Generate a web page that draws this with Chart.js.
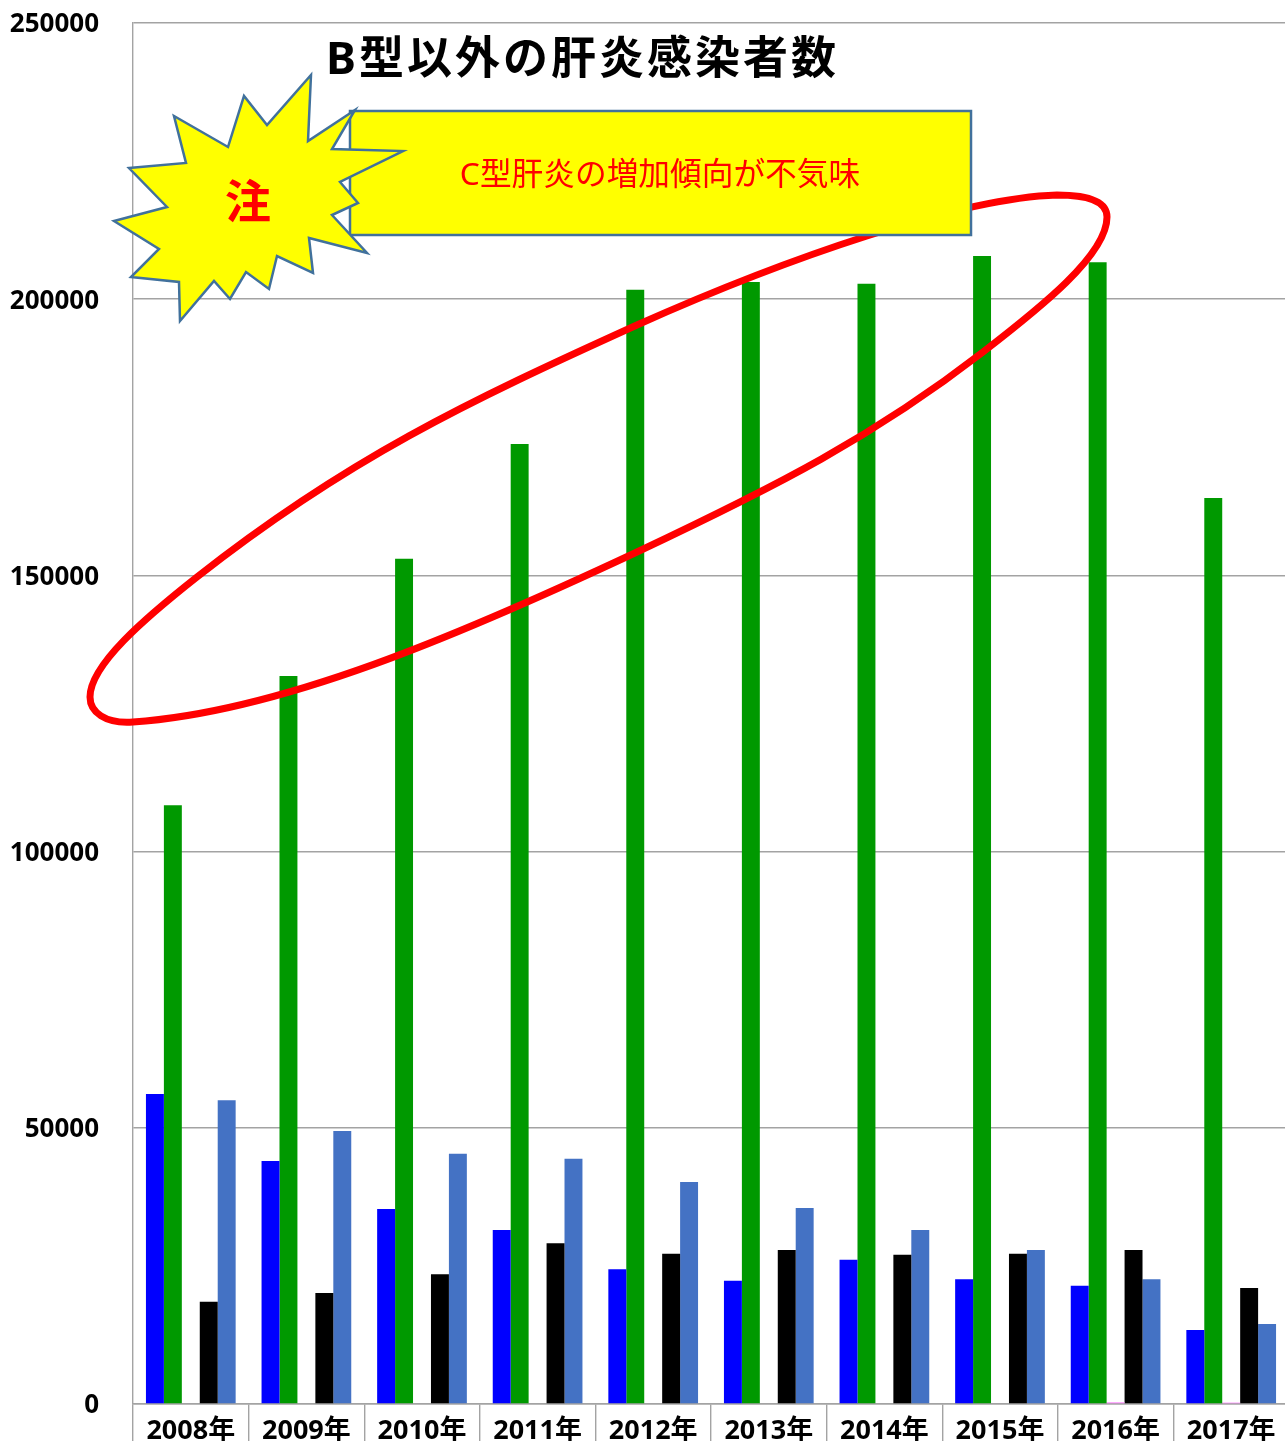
<!DOCTYPE html>
<html>
<head>
<meta charset="utf-8">
<style>
html, body { margin: 0; padding: 0; background: #fff; overflow: hidden; width: 1285px; height: 1441px; }
canvas { display: block; }
</style>
<script src="https://cdn.jsdelivr.net/npm/chart.js@4/dist/chart.umd.min.js"></script>
</head>
<body>
<canvas id="chart" width="1289" height="1441"></canvas>
<script>
const years = ["2008年", "2009年", "2010年", "2011年", "2012年", "2013年", "2014年", "2015年", "2016年", "2017年"];
const blueValues = [56100, 44000, 35300, 31500, 24400, 22300, 26100, 22600, 21400, 13400];
const greenValues = [108400, 131800, 153000, 173800, 201700, 203100, 202800, 207800, 206700, 164000];
const pinkValues = [0, 0, 0, 0, 0, 0, 0, 0, 300, 250];
const blackValues = [18500, 20100, 23500, 29100, 27200, 27900, 27000, 27200, 27900, 21000];
const steelValues = [55000, 49400, 45300, 44400, 40200, 35500, 31500, 27900, 22600, 14500];

const titleText = "B型以外の肝炎感染者数";
const boxText = "C型肝炎の増加傾向が不気味";
const starText = "注";

// hand drawn shapes on top of the chart, page pixels
const starOutline = [[129,168],[186,163],[174,116],[228,147],[244,96],[267,125],[311,75],[308,141],[355,110],[332,149],[403,151],[340,182],[358,203],[332,215],[367,253],[309,238],[313,273],[277,256],[269,289],[246,272],[230,299],[214,281],[180,321],[179,282],[131,277],[159,249],[114,221],[167,207]];
const ringStart = [90,697];
// each row: control 1, control 2, end
const ringCurves = [
    [90,665, 145,618, 197,577],
    [347,459, 467,402, 637,325],
    [787,258, 960,198, 1057,195],
    [1085,195, 1107,200, 1107,217],
    [1107,255, 1040,308, 983,352],
    [873,437, 777,486, 637,552],
    [460,635, 280,712, 133,722],
    [105,724, 90,712, 90,697]
];

const JP = '"Noto Sans", "Noto Sans CJK JP", sans-serif';
const GRID = "#a3a3a3";

const overlay = {
    id: "overlay",
    afterDraw(chart){
        const ctx = chart.ctx;
        ctx.save();

        // title
        ctx.fillStyle = "#000";
        ctx.textAlign = "left";
        ctx.textBaseline = "middle";
        ctx.font = 'bold 45px ' + JP;
        ctx.letterSpacing = "3px";
        ctx.fillText(titleText, 326, 61);
        ctx.letterSpacing = "0px";

        // red ring
        ctx.beginPath();
        ctx.moveTo(ringStart[0], ringStart[1]);
        ringCurves.forEach(c => ctx.bezierCurveTo(c[0], c[1], c[2], c[3], c[4], c[5]));
        ctx.closePath();
        ctx.strokeStyle = "#ff0000";
        ctx.lineWidth = 7;
        ctx.stroke();

        // yellow box
        ctx.fillStyle = "#ffff00";
        ctx.strokeStyle = "#41719c";
        ctx.lineWidth = 2.5;
        ctx.fillRect(350, 111, 621, 124);
        ctx.strokeRect(350, 111, 621, 124);
        ctx.fillStyle = "#ff0000";
        ctx.font = '31.7px ' + JP;
        ctx.textAlign = "center";
        ctx.fillText(boxText, 660, 176);

        // star
        ctx.beginPath();
        starOutline.forEach((p, i) => i ? ctx.lineTo(p[0], p[1]) : ctx.moveTo(p[0], p[1]));
        ctx.closePath();
        ctx.fillStyle = "#ffff00";
        ctx.fill();
        ctx.strokeStyle = "#41719c";
        ctx.lineWidth = 2.5;
        ctx.stroke();
        ctx.fillStyle = "#ff0000";
        ctx.font = 'bold 46px ' + JP;
        ctx.fillText(starText, 248, 205);

        ctx.restore();
    }
};

function makeSeries(label, data, color){
    return { label: label, data: data, backgroundColor: color, borderWidth: 0 };
}

new Chart(document.getElementById("chart").getContext("2d"), {
    type: "bar",
    data: {
        labels: years,
        datasets: [
            makeSeries("A型", blueValues, "#0000ff"),
            makeSeries("C型", greenValues, "#009900"),
            makeSeries("D型", pinkValues, "#ff80ff"),
            makeSeries("E型", blackValues, "#000000"),
            makeSeries("その他", steelValues, "#4472c4")
        ]
    },
    options: {
        responsive: false,
        animation: false,
        layout: { padding: { top: 23, left: 0, right: 0, bottom: 0 } },
        plugins: { legend: { display: false }, title: { display: false }, tooltip: { enabled: false } },
        datasets: { bar: { categoryPercentage: 0.776, barPercentage: 1 } },
        scales: {
            x: {
                grid: { drawOnChartArea: false, color: GRID, lineWidth: 1.4, tickLength: 37 },
                border: { color: GRID, width: 1.4 },
                ticks: {
                    color: "#000",
                    font: { family: JP, size: 27, weight: "bold" },
                    autoSkip: false, maxRotation: 0, minRotation: 0,
                    padding: -26
                },
                afterFit(s){ s.height = 37; s.paddingLeft = 0; s.paddingRight = 0; }
            },
            y: {
                min: 0, max: 250000,
                grid: { color: GRID, lineWidth: 1.4, drawTicks: false },
                border: { color: GRID, width: 1.4 },
                ticks: {
                    stepSize: 50000,
                    color: "#000",
                    font: { family: JP, size: 26, weight: "bold" },
                    padding: 34,
                    labelOffset: 2,
                    callback: v => String(v)
                },
                afterFit(s){ s.width = 133; s.paddingTop = 0; s.paddingBottom = 0; }
            }
        }
    },
    plugins: [overlay]
});
</script>
</body>
</html>
